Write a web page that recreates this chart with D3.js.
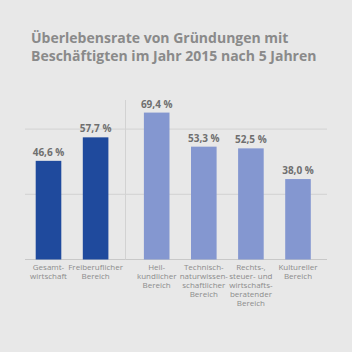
<!DOCTYPE html>
<html>
<head>
<meta charset="utf-8">
<script src="https://cdn.jsdelivr.net/npm/d3@7"></script>
<style>
  html, body { margin: 0; padding: 0; background: #e8e8e8; }
  svg { display: block; }
</style>
</head>
<body>
<svg id="chart"></svg>
<script>
// data
const titleLines = ["Überlebensrate von Gründungen mit", "Beschäftigten im Jahr 2015 nach 5 Jahren"];
const categories = ["gesamt", "frei", "heil", "tech", "recht", "kult"];
const categoryLabels = [
    ["Gesamt-", "wirtschaft"],
    ["Freiberuflicher", "Bereich"],
    ["Heil-", "kundlicher", "Bereich"],
    ["Technisch-", "naturwissen-", "schaftlicher", "Bereich"],
    ["Rechts-,", "steuer- und", "wirtschafts-", "beratender", "Bereich"],
    ["Kultureller", "Bereich"]
];
const values = [46.6, 57.7, 69.4, 53.3, 52.5, 38.0];
const groups = [0, 0, 1, 1, 1, 1];
const gridTicks = [0, 30.8, 61.6];

// layout
const width = 352, height = 352;
const darkBlue = "#1f4a9d";
const lightBlue = "#8497d0";
const barWidth = 25.6;
const groupGap = 14;
const baseY = 259.5;

const svg = d3.select("#chart")
    .attr("width", width)
    .attr("height", height);

svg.append("rect")
    .attr("width", width).attr("height", height)
    .attr("fill", "#e8e8e8");

// title
svg.append("g").selectAll("text")
    .data(titleLines)
    .join("text")
    .attr("x", 31)
    .attr("y", (d, i) => 42.5 + i * 18.3)
    .attr("font-family", "'Open Sans', sans-serif")
    .attr("font-weight", "bold")
    .attr("font-size", 14)
    .attr("fill", "#8a8a8a")
    .text(d => d);

// scales
const x = d3.scalePoint()
    .domain(categories)
    .range([48.5, 48.5 + 5 * 47.1]);
const xPos = (d, i) => x(d) + (groups[i] ? groupGap : 0);
const y = d3.scaleLinear()
    .domain([0, 100])
    .range([baseY, baseY - 211.7]);

// grid
svg.append("g").selectAll("line")
    .data(gridTicks)
    .join("line")
    .attr("x1", 25).attr("x2", 327)
    .attr("y1", d => y(d)).attr("y2", d => y(d))
    .attr("stroke", d => d === 0 ? "#c8c8c8" : "#d2d2d2")
    .attr("stroke-width", 1);

// separator between the two groups
svg.append("line")
    .attr("x1", 125.5).attr("x2", 125.5)
    .attr("y1", 100).attr("y2", baseY)
    .attr("stroke", "#d2d2d2");

// bars
svg.append("g").selectAll("rect")
    .data(categories)
    .join("rect")
    .attr("x", (d, i) => xPos(d, i) - barWidth / 2)
    .attr("width", barWidth)
    .attr("y", (d, i) => y(values[i]))
    .attr("height", (d, i) => y(0) - y(values[i]))
    .attr("fill", (d, i) => groups[i] ? lightBlue : darkBlue);

// value labels
svg.append("g").selectAll("text")
    .data(categories)
    .join("text")
    .attr("x", (d, i) => xPos(d, i))
    .attr("y", (d, i) => y(values[i]) - 5)
    .attr("text-anchor", "middle")
    .attr("font-family", "'Open Sans', sans-serif")
    .attr("font-weight", "bold")
    .attr("font-size", 10)
    .attr("fill", "#6f6f6f")
    .text((d, i) => d3.format(".1f")(values[i]).replace(".", ",") + " %");

// category labels
const labelGroups = svg.append("g").selectAll("text")
    .data(categories)
    .join("text")
    .attr("text-anchor", "middle")
    .attr("font-family", "'Open Sans', sans-serif")
    .attr("font-size", 8)
    .attr("fill", "#8c8c8c");
labelGroups.selectAll("tspan")
    .data((d, i) => categoryLabels[i].map(t => ({ t, cx: xPos(d, i) })))
    .join("tspan")
    .attr("x", d => d.cx)
    .attr("y", (d, j) => 269.6 + j * 9.2)
    .text(d => d.t);
</script>
</body>
</html>
